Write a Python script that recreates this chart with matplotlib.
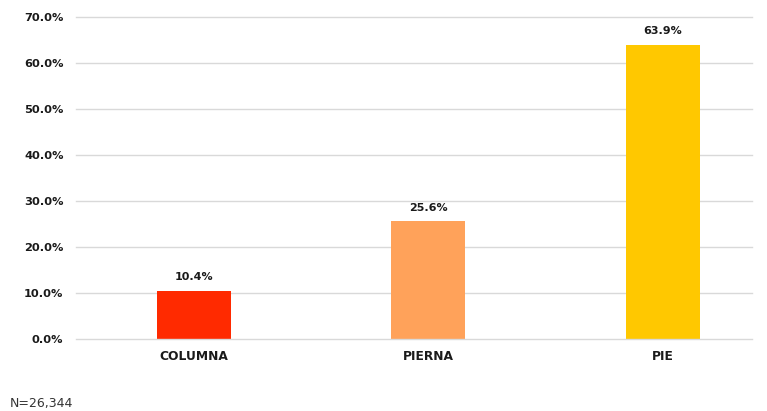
import matplotlib.pyplot as plt
from matplotlib.ticker import FuncFormatter

categorias = ["COLUMNA", "PIERNA", "PIE"]
porcentajes = [10.4, 25.6, 63.9]
colores = ["#FF2A00", "#FFA25A", "#FFC800"]
nota = "N=26,344"

W, H = 767, 411
fig = plt.figure(figsize=(W / 100, H / 100), dpi=100)
ax = fig.add_axes([76 / W, 1 - 339 / H, (752 - 76) / W, (339 - 17) / H])

x = range(len(categorias))
bars = ax.bar(x, porcentajes, width=0.316, color=colores, zorder=3)

for b, v in zip(bars, porcentajes):
    ax.text(b.get_x() + b.get_width() / 2, v + 1.9, f"{v:.1f}%",
            ha="center", va="bottom", fontsize=8, fontweight="bold", color="#1a1a1a")

ax.set_ylim(0, 70)
ax.set_yticks(range(0, 71, 10))
ax.yaxis.set_major_formatter(FuncFormatter(lambda v, p: f"{v:.1f}%"))
ax.set_xlim(-0.503, 2.38)
ax.set_xticks(list(x))
ax.set_xticklabels(categorias)

# grid lines drawn by hand so the 0% and 70% lines are not clipped
for t in range(0, 71, 10):
    ax.axhline(t, color="#D9D9D9", linewidth=1, zorder=0 if t else 4, clip_on=False)
for s in ax.spines.values():
    s.set_visible(False)
ax.tick_params(length=0)
ax.tick_params(axis="y", pad=9)
ax.tick_params(axis="x", pad=8)
for lbl in ax.get_yticklabels():
    lbl.set_fontsize(8.2)
    lbl.set_fontweight("bold")
    lbl.set_color("#1a1a1a")
for lbl in ax.get_xticklabels():
    lbl.set_fontsize(8.8)
    lbl.set_fontweight("bold")
    lbl.set_color("#1a1a1a")

fig.text(10 / W, 1 - 403 / H, nota, fontsize=9, color="#333333", va="center")

fig.savefig("out.png", dpi=100, facecolor="white")
